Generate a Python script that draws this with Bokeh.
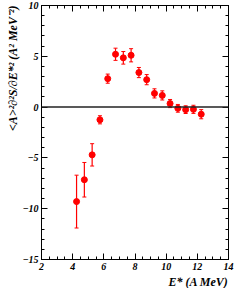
from bokeh.plotting import figure
from bokeh.models import (ColumnDataSource, Whisker, TeeHead, Span, Title,
                          FixedTicker, LinearAxis, Range1d)
from bokeh.embed import file_html
from bokeh.resources import INLINE

# Data
energy = [4.25, 4.75, 5.25, 5.75, 6.25, 6.75, 7.25, 7.75, 8.25, 8.75,
          9.25, 9.75, 10.25, 10.75, 11.25, 11.75, 12.25]
value = [-9.3, -7.15, -4.7, -1.25, 2.8, 5.2, 4.85, 5.1, 3.4, 2.7,
         1.35, 1.15, 0.35, -0.12, -0.25, -0.22, -0.7]
error = [2.6, 1.7, 1.1, 0.4, 0.45, 0.6, 0.62, 0.65, 0.5, 0.5,
         0.45, 0.45, 0.4, 0.38, 0.38, 0.4, 0.45]

x_ticks = [2, 4, 6, 8, 10, 12, 14]
x_minor = [2 + 0.5 * i for i in range(25)]
y_ticks = [-15, -10, -5, 0, 5, 10]
y_minor = [-15 + i for i in range(26)]

x_title = "E* (A MeV)"
y_title = "<A>\u00b2\u2202\u00b2S/\u2202E*\u00b2 (A\u00b2 MeV\u207b\u00b2)"

FONT = "Liberation Serif"

src = ColumnDataSource(dict(
    x=energy, y=value,
    upper=[v + e for v, e in zip(value, error)],
    lower=[v - e for v, e in zip(value, error)],
))

p = figure(width=241, height=288, output_backend="svg", toolbar_location=None,
           x_range=Range1d(2, 14), y_range=Range1d(-15, 10),
           min_border_left=41, min_border_right=13,
           min_border_top=5, min_border_bottom=29)
p.background_fill_color = "white"
p.border_fill_color = "white"
p.outline_line_color = "black"
p.outline_line_width = 1
p.grid.visible = False

def style_axis(ax, ticks, minor, show_labels, standoff):
    ax.ticker = FixedTicker(ticks=ticks, minor_ticks=minor)
    ax.major_tick_in = 6
    ax.major_tick_out = 0
    ax.minor_tick_in = 3
    ax.minor_tick_out = 0
    ax.axis_line_color = "black"
    ax.major_tick_line_color = "black"
    ax.minor_tick_line_color = "black"
    ax.major_label_standoff = standoff
    ax.major_label_text_font = FONT
    ax.major_label_text_font_style = "bold italic"
    ax.major_label_text_font_size = "10px"
    ax.major_label_text_color = "black"
    if not show_labels:
        ax.major_label_overrides = {t: "" for t in ticks}

style_axis(p.xaxis[0], x_ticks, x_minor, True, 3)
style_axis(p.yaxis[0], y_ticks, y_minor, True, 3)

top_axis = LinearAxis()
style_axis(top_axis, x_ticks, x_minor, False, 0)
p.add_layout(top_axis, "above")
right_axis = LinearAxis()
style_axis(right_axis, y_ticks, y_minor, False, 0)
p.add_layout(right_axis, "right")

p.add_layout(Span(location=0, dimension="width", line_color="#222222",
                  line_width=1.5))

whisk = Whisker(base="x", upper="upper", lower="lower", source=src,
                line_color="red", line_width=1.2,
                upper_head=TeeHead(size=4, line_color="red", line_width=1),
                lower_head=TeeHead(size=4, line_color="red", line_width=1))
p.add_layout(whisk)

p.scatter("x", "y", source=src, size=6, marker="circle",
          fill_color="red", line_color="red")

p.add_layout(Title(text=x_title, align="right", text_font=FONT,
                   text_font_style="bold italic", text_font_size="12px",
                   text_color="black", standoff=0), "below")
p.add_layout(Title(text=y_title, align="right", text_font=FONT,
                   text_font_style="bold italic", text_font_size="12px",
                   text_color="black", standoff=0), "left")

open("out.html", "w").write(file_html(p, INLINE))
